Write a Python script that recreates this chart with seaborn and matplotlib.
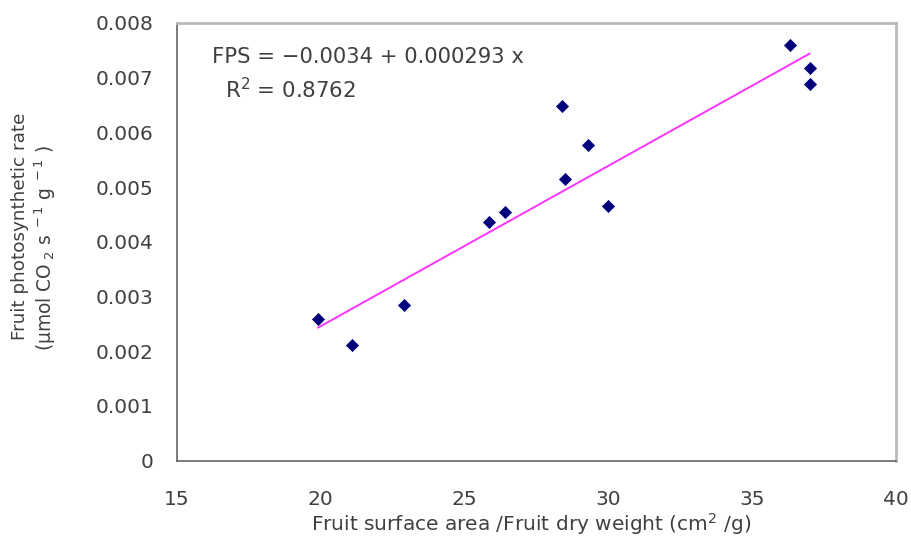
import numpy as np
import pandas as pd
import matplotlib
matplotlib.use("Agg")
import matplotlib.pyplot as plt
import seaborn as sns

# Data
surface_ratio = [19.9, 21.1, 22.9, 25.85, 26.4, 28.5, 30.0, 28.4, 29.3, 36.3, 37.0, 37.0]
photo_rate = [0.00259, 0.00211, 0.00285, 0.00437, 0.00454, 0.00514, 0.00465,
              0.00648, 0.00577, 0.00760, 0.00717, 0.00688]
intercept = -0.0034
slope = 0.000293
r_squared = 0.8762
x_ticks = [15, 20, 25, 30, 35, 40]
y_ticks = [0, 0.001, 0.002, 0.003, 0.004, 0.005, 0.006, 0.007, 0.008]

sns.set_style("white")
plt.rcParams['font.family'] = ['DejaVu Sans']
plt.rcParams['mathtext.fontset'] = 'dejavusans'
plt.rcParams['mathtext.default'] = 'regular'

df = pd.DataFrame({"x": surface_ratio, "y": photo_rate})
x_fit = np.array([min(surface_ratio), max(surface_ratio)])
fit_df = pd.DataFrame({"x": x_fit, "y": intercept + slope * x_fit})

W, H = 912, 547
fig = plt.figure(figsize=(W/100, H/100), dpi=100)
ax = fig.add_axes([177/W, 1 - 460.7/H, (896 - 177)/W, (460.7 - 23)/H])

sns.lineplot(data=fit_df, x="x", y="y", ax=ax, color="#FF33FF", linewidth=1.4)
sns.scatterplot(data=df, x="x", y="y", ax=ax, marker="D", color="#00007A",
                s=38, edgecolor="#00007A", linewidth=0.5, zorder=3)

ax.set_xlim(15, 40)
ax.set_ylim(0, 0.008)
ax.set_xticks(x_ticks)
ax.set_yticks(y_ticks)
ax.set_xticklabels([str(t) for t in x_ticks])
ax.set_yticklabels(["0"] + [f"{t:.3f}" for t in y_ticks[1:]])

txt_color = "#404040"
fs = 14.5
ax.tick_params(axis="both", direction="in", length=6, width=1, color="#777777",
               labelsize=fs, labelcolor=txt_color)
ax.tick_params(axis="y", pad=17)
ax.tick_params(axis="x", pad=21)

for side in ["left", "bottom"]:
    ax.spines[side].set_color("#666666")
    ax.spines[side].set_linewidth(1.2)
for side in ["top", "right"]:
    ax.spines[side].set_color("#bbbbbb")
    ax.spines[side].set_linewidth(2)
    ax.spines[side].set_visible(True)
ax.set_xlabel("")
ax.set_ylabel("")

fig.text(531/W, 1 - 524/H, "Fruit surface area /Fruit dry weight (cm$^2$ /g)",
         fontsize=fs, color=txt_color, ha="center", va="center")
fig.text(20/W, 1 - 226/H, "Fruit photosynthetic rate", rotation=90,
         fontsize=13.2, color=txt_color, ha="center", va="center")
fig.text(45/W, 1 - 248/H, "(μmol CO$_{\\ 2}$ s$^{\\ -1}$ g$^{\\ -1}$ )", rotation=90,
         fontsize=13.4, color=txt_color, ha="center", va="center")

ax.text(212/W, 1 - 57/H, "FPS = \u22120.0034 + 0.000293 x", transform=fig.transFigure,
        fontsize=15.2, color=txt_color, va="center", ha="left")
ax.text(225/W, 1 - 90/H, f"R$^2$ = {r_squared}", transform=fig.transFigure,
        fontsize=15.4, color=txt_color, va="center", ha="left")

fig.savefig("out.png", dpi=100)
